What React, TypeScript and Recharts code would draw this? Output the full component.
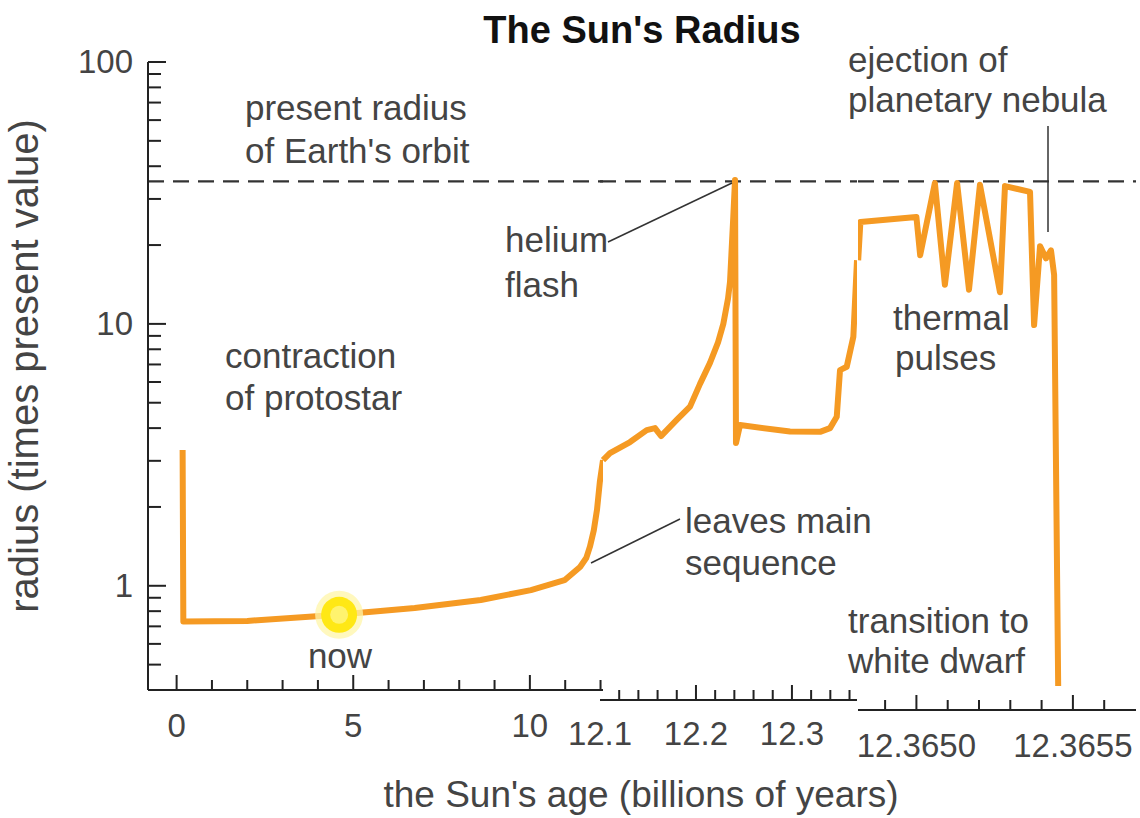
import React from 'react';
import {Line, LineChart, ReferenceDot, ReferenceLine, XAxis, YAxis} from 'recharts';

const FONT = '"Liberation Sans", Arial, Helvetica, sans-serif';
const INK = '#444';
const AXIS = '#222';
const ORANGE = '#F59A23';

// radius in units of the present radius (log axis)
const RADIUS_DOMAIN = [0.4, 100];
const RADIUS_TICKS = [0.4, 0.5, 0.6, 0.7, 0.8, 0.9, 1, 2, 3, 4, 5, 6, 7, 8, 9, 10, 20, 30, 40, 50, 60, 70, 80, 90, 100];
const RADIUS_LABELS = [1, 10, 100];
const EARTH_ORBIT = 35;

// part 1: protostar + main sequence (billions of years)
const SEG1_AGE = [0.17, 0.19, 2.0, 4.47, 6.74, 8.61, 10.03, 10.98, 11.42, 11.6, 11.7, 11.81, 11.9, 11.98, 12.07];
const SEG1_RADIUS = [3.3, 0.73, 0.734, 0.773, 0.822, 0.882, 0.963, 1.05, 1.18, 1.28, 1.41, 1.63, 1.95, 2.49, 3.02];
const SEG1_DOMAIN = [-0.81, 12.07];
const SEG1_TICKS = [0, 1, 2, 3, 4, 5, 6, 7, 8, 9, 10, 11, 12];
const SEG1_LABELS = [0, 5, 10];
const NOW_AGE = 4.6;
const NOW_RADIUS = 0.775;

// part 2: red giant, helium flash, horizontal branch
const SEG2_AGE = [12.1031, 12.1104, 12.1313, 12.1487, 12.1573, 12.1636, 12.1799, 12.1938, 12.2042, 12.2146, 12.223, 12.2285, 12.2334, 12.2355, 12.2389, 12.2407, 12.2417, 12.2459, 12.298, 12.3293, 12.3397, 12.3467, 12.3501, 12.3571, 12.364, 12.3678];
const SEG2_RADIUS = [3.02, 3.21, 3.54, 3.93, 4.0, 3.73, 4.3, 4.83, 5.9, 7.1, 8.5, 10.0, 12.5, 14.5, 25.7, 35.4, 3.51, 4.11, 3.88, 3.87, 4.0, 4.42, 6.66, 6.86, 8.93, 17.5];
const SEG2_DOMAIN = [12.1, 12.3678];
const SEG2_TICKS = [12.1, 12.12, 12.14, 12.16, 12.18, 12.2, 12.22, 12.24, 12.26, 12.28, 12.3, 12.32, 12.34, 12.36];
const SEG2_LABELS = [12.1, 12.2, 12.3];

// part 3: thermal pulses, nebula, white dwarf
const SEG3_AGE = [12.364814, 12.364821, 12.365, 12.365012, 12.365059, 12.365091, 12.36513, 12.365168, 12.365203, 12.365267, 12.365283, 12.365363, 12.365376, 12.365395, 12.365414, 12.36543, 12.36544, 12.365453];
const SEG3_RADIUS = [17.5, 24.5, 25.6, 18.3, 34.5, 14.1, 34.5, 13.5, 34.0, 13.2, 33.6, 31.9, 9.9, 19.8, 17.8, 19.1, 15.4, 0.414];
const SEG3_DOMAIN = [12.3648134, 12.3657016];
const SEG3_TICKS = [12.3649, 12.365, 12.3651, 12.3652, 12.3653, 12.3654, 12.3655, 12.3656];
const SEG3_LABELS = [12.365, 12.3655];

const toRows = (ages: number[], radii: number[]) => ages.map((age, i) => ({age, radius: radii[i]}));

const isIn = (list: number[], v: number) => list.some((l) => Math.abs(l - v) < 1e-7);

const tickText = {fontFamily: FONT, fontSize: 33, fill: INK};
const noteText = {fontFamily: FONT, fontSize: 35, fill: INK};

const RadiusTick = (props: any) => {
    const {x, y, payload} = props;
    const major = isIn(RADIUS_LABELS, payload.value);
    return (
        <g>
            <line x1={x} y1={y} x2={x + (major ? 18 : 13)} y2={y} stroke={AXIS} strokeWidth={2}/>
            {major && (
                <text x={x - 15} y={y} dy={11} textAnchor="end" style={tickText}>{payload.value}</text>
            )}
        </g>
    );
};

const ageTick = (labels: number[], digits: number, labelDy: number, skipMark: number[] = []) => (props: any) => {
    const {x, y, payload} = props;
    const v = payload.value;
    const labelled = isIn(labels, v);
    return (
        <g>
            {!isIn(skipMark, v) && (
                <line x1={x} y1={y} x2={x} y2={y - (labelled ? 15 : 10)} stroke={AXIS} strokeWidth={2}/>
            )}
            {labelled && (
                <text x={x} y={y + labelDy} textAnchor="middle" style={tickText}>{v.toFixed(digits)}</text>
            )}
        </g>
    );
};

const SunShape = (p: any) => (
    <g>
        <circle cx={p.cx} cy={p.cy} r={24} fill="#FFF6A8" opacity={0.75}/>
        <circle cx={p.cx} cy={p.cy} r={18} fill="#FFE815"/>
        <circle cx={p.cx} cy={p.cy} r={9} fill="#FFF36E"/>
    </g>
);

const H = 818;
const MARGIN_TOP = 62;
const MARGIN_BOTTOM = 68;

const orbitLine = (
    <ReferenceLine xAxisId="age" y={EARTH_ORBIT} stroke="#333" strokeWidth={2.2} strokeDasharray="16 9"/>
);

const radiusAxis = (hide: boolean) => (
    <YAxis
        scale="log"
        type="number"
        domain={RADIUS_DOMAIN}
        allowDataOverflow
        ticks={RADIUS_TICKS}
        interval={0}
        hide={hide}
        width={148}
        tickSize={0}
        tickMargin={0}
        tickLine={false}
        axisLine={{stroke: AXIS, strokeWidth: 2}}
        tick={RadiusTick}
    />
);

const radiusLine = (
    <Line
        xAxisId="age"
        type="linear"
        dataKey="radius"
        stroke={ORANGE}
        strokeWidth={6}
        strokeLinejoin="round"
        dot={false}
        activeDot={false}
        isAnimationActive={false}
    />
);

// an empty axis that pushes the real age axis of a part down a little
const spacer = (h: number) => (
    <XAxis xAxisId="_gap" type="number" domain={[0, 1]} height={h}
           tick={false} tickLine={false} axisLine={false}/>
);

const Annotations = () => (
    <svg width={1140} height={H} style={{position: 'absolute', left: 0, top: 0, pointerEvents: 'none'}}>
        <text x={642} y={43} textAnchor="middle"
              style={{fontFamily: FONT, fontSize: 38, fontWeight: 700, fill: '#111'}}>The Sun's Radius</text>
        <text transform="translate(38, 366) rotate(-90)" textAnchor="middle"
              style={{...noteText, fontSize: 40}}>
            radius (times present value)
        </text>
        <text x={641} y={807} textAnchor="middle" style={{...noteText, fontSize: 37}}>
            the Sun's age (billions of years)
        </text>

        <text x={245} y={120} style={noteText}>present radius</text>
        <text x={245} y={163} style={noteText}>of Earth's orbit</text>

        <text x={225} y={368} style={noteText}>contraction</text>
        <text x={225} y={410} style={noteText}>of protostar</text>

        <text x={340} y={668} textAnchor="middle" style={noteText}>now</text>

        <text x={505} y={252} style={noteText}>helium</text>
        <text x={505} y={297} style={noteText}>flash</text>
        <line x1={608} y1={242} x2={732} y2={183} stroke="#333" strokeWidth={1.5}/>

        <text x={685} y={533} style={noteText}>leaves main</text>
        <text x={685} y={575} style={noteText}>sequence</text>
        <line x1={591} y1={563} x2={680} y2={519} stroke="#333" strokeWidth={1.5}/>

        <text x={893} y={330} style={noteText}>thermal</text>
        <text x={895} y={370} style={noteText}>pulses</text>

        <text x={848} y={72} style={noteText}>ejection of</text>
        <text x={848} y={112} style={noteText}>planetary nebula</text>
        <line x1={1048} y1={126} x2={1048} y2={232} stroke="#333" strokeWidth={1.5}/>

        <text x={848} y={633} style={noteText}>transition to</text>
        <text x={848} y={673} style={noteText}>white dwarf</text>
    </svg>
);

const App = () => {
    const seg1 = toRows(SEG1_AGE, SEG1_RADIUS);
    const seg2 = toRows(SEG2_AGE, SEG2_RADIUS);
    const seg3 = toRows(SEG3_AGE, SEG3_RADIUS);

    return (
        <div style={{position: 'absolute', left: 0, top: 0, width: 1140, height: H, background: '#fff'}}>
            {/* 0 - 12 billion years */}
            <div style={{position: 'absolute', left: 0, top: 0}}>
                <LineChart width={613} height={H} data={seg1}
                           margin={{top: MARGIN_TOP, right: 10, bottom: MARGIN_BOTTOM, left: 0}}>
                    <XAxis xAxisId="age" dataKey="age" type="number" domain={SEG1_DOMAIN} allowDataOverflow
                           ticks={SEG1_TICKS} interval={0} height={60} tickSize={0} tickMargin={0}
                           tickLine={false} axisLine={{stroke: AXIS, strokeWidth: 2}}
                           tick={ageTick(SEG1_LABELS, 0, 47)}/>
                    {radiusAxis(false)}
                    {orbitLine}
                    {radiusLine}
                    <ReferenceDot xAxisId="age" x={NOW_AGE} y={NOW_RADIUS} r={18} shape={SunShape}/>
                </LineChart>
            </div>

            {/* 12.1 - 12.37 billion years */}
            <div style={{position: 'absolute', left: 560, top: 0}}>
                <LineChart width={307} height={H} data={seg2}
                           margin={{top: MARGIN_TOP, right: 10, bottom: MARGIN_BOTTOM, left: 40}}>
                    {spacer(10)}
                    <XAxis xAxisId="age" dataKey="age" type="number" domain={SEG2_DOMAIN} allowDataOverflow
                           ticks={SEG2_TICKS} interval={0} height={50} tickSize={0} tickMargin={0}
                           tickLine={false} axisLine={{stroke: AXIS, strokeWidth: 2}}
                           tick={ageTick(SEG2_LABELS, 1, 45, [12.1])}/>
                    {radiusAxis(true)}
                    {orbitLine}
                    {radiusLine}
                </LineChart>
            </div>

            {/* the last million years */}
            <div style={{position: 'absolute', left: 848, top: 0}}>
                <LineChart width={292} height={H} data={seg3}
                           margin={{top: MARGIN_TOP, right: 4, bottom: MARGIN_BOTTOM, left: 10}}>
                    {spacer(20)}
                    <XAxis xAxisId="age" dataKey="age" type="number" domain={SEG3_DOMAIN} allowDataOverflow
                           ticks={SEG3_TICKS} interval={0} height={40} tickSize={0} tickMargin={0}
                           tickLine={false} axisLine={{stroke: AXIS, strokeWidth: 2}}
                           tick={ageTick(SEG3_LABELS, 4, 47)}/>
                    {radiusAxis(true)}
                    {orbitLine}
                    {radiusLine}
                </LineChart>
            </div>

            <Annotations/>
        </div>
    );
};

export default App;
